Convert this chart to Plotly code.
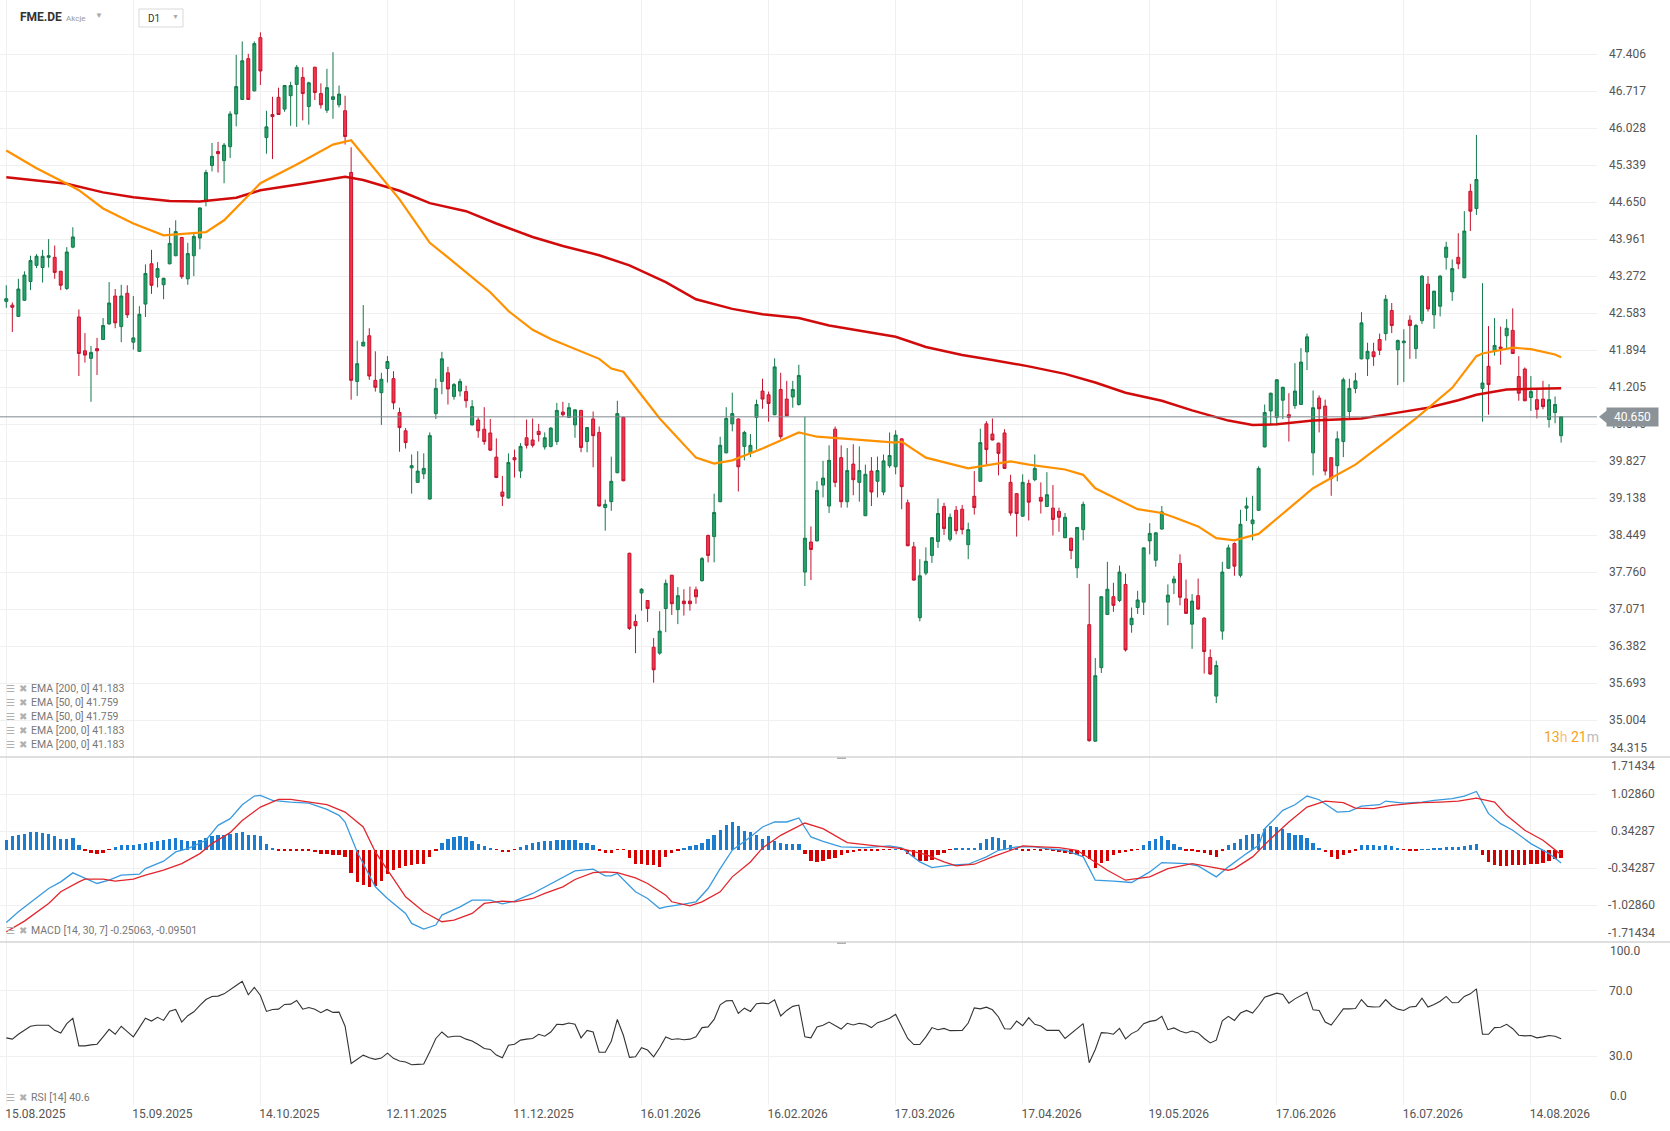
import plotly.graph_objects as go
from plotly.subplots import make_subplots

# FME.DE daily sessions, first one is 15.08.2025
opens = [42.80, 42.73, 42.52, 42.82, 43.17, 43.47, 43.43, 43.62, 43.62, 43.36,
         43.04, 43.81, 42.51, 41.88, 41.74, 41.92, 42.09, 42.38, 42.90, 42.33,
         42.95, 42.04, 41.87, 42.75, 43.50, 43.25, 43.11, 43.50, 43.65, 43.99,
         43.22, 43.65, 43.98, 44.67, 45.33, 45.59, 45.42, 45.68, 46.29, 46.56,
         47.32, 46.72, 47.71, 45.85, 46.28, 46.60, 46.38, 46.63, 46.84, 46.97,
         46.43, 47.16, 46.67, 46.36, 46.56, 46.46, 46.35, 45.20, 41.31, 41.97,
         42.16, 41.33, 41.10, 41.55, 41.36, 40.73, 40.39, 39.70, 39.43, 39.59,
         39.12, 40.71, 41.31, 41.47, 41.03, 41.13, 41.12, 40.50, 40.59, 40.42,
         40.35, 39.90, 39.25, 39.14, 39.89, 39.64, 40.26, 40.22, 40.38, 40.09,
         40.10, 40.19, 40.74, 40.64, 40.50, 40.77, 40.19, 40.61, 40.36, 38.96,
         39.07, 39.61, 40.64, 38.11, 36.84, 37.37, 37.23, 36.36, 36.25, 37.08,
         37.70, 37.06, 37.22, 37.22, 37.43, 37.60, 38.44, 38.42, 39.07, 39.98,
         40.52, 40.61, 40.10, 39.98, 40.64, 41.13, 41.06, 40.69, 41.16, 40.98,
         41.02, 40.88, 37.76, 38.32, 38.34, 39.38, 38.99, 40.42, 39.89, 39.07,
         39.77, 39.43, 38.81, 39.64, 39.45, 39.25, 39.74, 39.72, 40.24, 39.05,
         38.23, 36.91, 37.74, 38.07, 38.33, 38.98, 38.37, 38.91, 38.93, 38.27,
         39.17, 39.45, 40.52, 40.33, 40.16, 40.35, 39.43, 39.22, 38.80, 39.41,
         39.48, 39.15, 38.98, 38.95, 38.89, 38.40, 38.39, 37.84, 38.55, 36.78,
         34.61, 35.98, 36.97, 37.30, 37.23, 37.53, 36.78, 37.10, 37.20, 38.34,
         37.98, 38.56, 37.20, 37.56, 37.92, 37.26, 36.79, 37.32, 36.90, 36.17,
         35.45, 36.66, 37.83, 38.29, 37.70, 38.95, 38.66, 38.91, 40.09, 40.76,
         40.64, 40.96, 40.69, 40.86, 40.88, 41.86, 39.98, 41.00, 40.85, 39.89,
         39.74, 40.19, 40.75, 41.18, 41.73, 41.73, 41.86, 42.09, 42.20, 42.63,
         41.90, 42.03, 42.45, 41.92, 42.44, 43.12, 42.55, 42.71, 43.62, 42.98,
         43.62, 43.24, 44.85, 44.53, 41.18, 41.59, 41.87, 41.95, 42.16, 42.26,
         41.40, 41.54, 41.01, 40.97, 40.98, 40.60, 40.73, 40.30]
highs = [43.10, 42.78, 43.22, 43.36, 43.65, 43.68, 43.76, 43.96, 43.84, 43.37,
         43.81, 44.18, 42.65, 42.21, 41.97, 42.12, 42.49, 43.16, 43.03, 43.11,
         43.10, 42.90, 42.71, 43.49, 43.76, 43.53, 43.24, 44.17, 44.31, 44.00,
         43.89, 44.09, 44.55, 45.25, 45.75, 45.77, 45.75, 46.34, 47.39, 47.64,
         47.41, 47.64, 47.81, 46.35, 46.61, 46.78, 46.83, 46.89, 47.20, 47.16,
         46.89, 47.17, 46.86, 47.13, 47.44, 46.82, 46.63, 45.67, 42.07, 42.73,
         42.30, 41.87, 41.47, 41.78, 41.50, 40.82, 40.44, 39.95, 40.01, 39.97,
         40.36, 41.36, 41.86, 41.58, 41.28, 41.36, 41.23, 40.96, 40.64, 40.83,
         40.61, 40.25, 39.55, 39.97, 40.04, 40.16, 40.60, 40.62, 40.52, 40.36,
         40.46, 40.91, 40.93, 40.91, 40.79, 40.78, 40.46, 40.75, 40.47, 39.11,
         39.91, 40.95, 40.65, 38.12, 36.97, 37.46, 37.24, 36.53, 37.03, 37.62,
         37.71, 37.48, 37.44, 37.49, 37.49, 38.04, 38.46, 39.22, 40.28, 40.83,
         41.10, 40.62, 40.39, 40.33, 40.97, 41.36, 41.12, 41.74, 41.47, 41.32,
         41.32, 41.62, 40.65, 38.61, 39.45, 39.83, 40.12, 40.47, 40.12, 40.07,
         40.14, 40.10, 39.76, 39.90, 39.91, 39.95, 40.36, 40.40, 40.25, 39.11,
         38.32, 38.00, 38.22, 38.41, 39.13, 39.05, 38.85, 38.99, 39.01, 38.68,
         39.64, 40.43, 40.57, 40.62, 40.17, 40.42, 39.57, 39.23, 39.58, 39.48,
         39.95, 39.43, 39.62, 39.38, 38.96, 38.86, 38.40, 38.60, 39.07, 37.54,
         36.16, 37.31, 37.95, 37.56, 37.88, 37.73, 37.10, 37.41, 38.22, 38.67,
         38.50, 38.99, 37.53, 37.69, 38.09, 37.62, 37.35, 37.64, 36.92, 36.32,
         36.11, 37.95, 38.27, 38.31, 38.92, 39.15, 39.18, 39.73, 40.88, 41.10,
         41.35, 41.21, 41.09, 41.65, 41.93, 42.20, 41.14, 41.05, 40.97, 39.90,
         40.38, 41.38, 41.36, 41.47, 42.60, 42.03, 42.03, 42.20, 42.92, 42.77,
         42.09, 42.28, 42.54, 42.38, 43.29, 43.27, 43.00, 43.29, 43.91, 43.58,
         44.07, 44.48, 44.99, 45.90, 43.14, 42.34, 42.49, 42.33, 42.47, 42.67,
         41.78, 41.57, 41.41, 41.15, 41.32, 41.26, 41.03, 40.66]
lows = [42.68, 42.23, 42.51, 42.81, 43.01, 43.42, 43.15, 43.43, 43.22, 43.01,
        43.01, 43.79, 41.41, 41.66, 40.93, 41.43, 42.08, 42.37, 42.30, 42.04,
        42.49, 41.90, 41.86, 42.51, 42.94, 43.06, 42.84, 43.49, 43.64, 43.22,
        43.11, 43.27, 43.77, 44.57, 45.22, 45.20, 45.00, 45.47, 46.06, 46.55,
        46.55, 46.71, 46.83, 45.55, 45.45, 46.27, 46.33, 46.07, 46.05, 46.17,
        46.09, 46.55, 46.39, 46.31, 46.20, 46.41, 45.72, 40.97, 41.04, 41.96,
        41.34, 41.12, 40.50, 41.29, 40.79, 40.00, 40.06, 39.22, 39.42, 39.49,
        39.11, 40.61, 41.07, 40.88, 40.97, 41.03, 40.82, 40.49, 40.26, 40.13,
        40.02, 39.51, 38.99, 39.13, 39.52, 39.51, 40.06, 40.08, 40.19, 40.04,
        40.08, 40.13, 40.65, 40.63, 40.26, 39.99, 39.99, 39.71, 38.98, 38.53,
        38.90, 39.60, 39.45, 36.68, 36.25, 37.04, 36.83, 35.70, 36.22, 36.64,
        36.96, 36.79, 36.95, 37.04, 37.17, 37.58, 37.94, 37.94, 39.06, 39.97,
        40.38, 39.26, 39.84, 39.90, 40.04, 40.80, 40.56, 40.68, 40.24, 40.66,
        40.82, 40.86, 37.50, 37.61, 38.33, 39.15, 38.86, 39.34, 38.96, 38.96,
        39.19, 39.07, 38.80, 38.99, 39.15, 39.19, 39.70, 39.58, 38.93, 38.24,
        37.60, 36.84, 37.70, 37.93, 38.21, 38.45, 38.33, 38.46, 38.46, 38.00,
        38.83, 39.44, 39.76, 40.21, 39.56, 39.68, 38.81, 38.42, 38.79, 38.72,
        39.45, 38.85, 38.97, 38.44, 38.51, 38.39, 38.00, 37.65, 38.35, 34.60,
        34.60, 35.88, 36.96, 37.02, 37.20, 36.28, 36.63, 36.98, 36.96, 38.09,
        37.86, 38.55, 36.77, 37.35, 37.14, 36.98, 36.33, 37.06, 35.87, 35.85,
        35.32, 36.50, 37.82, 37.69, 37.66, 38.71, 38.35, 38.90, 40.08, 40.51,
        40.49, 40.61, 40.19, 40.80, 40.87, 41.52, 39.56, 40.36, 39.56, 39.18,
        39.45, 39.90, 40.62, 41.09, 41.72, 41.41, 41.60, 41.80, 42.07, 42.21,
        41.24, 41.30, 41.73, 41.73, 42.38, 42.61, 42.29, 42.52, 43.39, 42.81,
        43.40, 43.23, 44.11, 44.41, 40.56, 40.69, 41.79, 41.62, 41.92, 41.82,
        40.95, 40.94, 40.76, 40.62, 40.79, 40.45, 40.53, 40.17]
closes = [42.85, 42.69, 43.03, 43.29, 43.56, 43.64, 43.64, 43.65, 43.34, 43.10,
          43.72, 44.00, 41.83, 41.80, 41.85, 41.88, 42.35, 42.77, 42.40, 42.90,
          42.55, 42.12, 42.56, 43.32, 43.10, 43.41, 43.23, 43.88, 44.10, 43.26,
          43.69, 44.01, 44.54, 45.20, 45.50, 45.55, 45.71, 46.29, 46.80, 47.28,
          46.56, 47.60, 47.09, 46.05, 46.24, 46.28, 46.82, 46.82, 47.16, 46.67,
          46.87, 46.69, 46.46, 46.78, 46.61, 46.66, 45.87, 41.33, 41.64, 42.04,
          41.41, 41.20, 41.35, 41.68, 40.91, 40.45, 40.17, 39.74, 39.64, 39.69,
          40.30, 41.18, 41.73, 41.17, 41.25, 41.31, 40.95, 40.84, 40.39, 40.19,
          40.03, 39.52, 39.17, 39.80, 39.85, 40.10, 40.12, 40.12, 40.32, 40.26,
          40.44, 40.77, 40.69, 40.82, 40.78, 40.08, 40.45, 40.30, 38.99, 39.02,
          39.45, 40.71, 39.46, 36.71, 36.76, 37.44, 37.08, 35.94, 36.66, 37.55,
          37.17, 37.32, 37.17, 37.17, 37.30, 38.01, 38.07, 38.87, 40.12, 40.62,
          40.71, 39.72, 40.36, 40.12, 40.88, 40.98, 40.90, 41.58, 40.28, 40.67,
          41.16, 41.42, 38.39, 38.18, 39.28, 39.51, 39.84, 39.43, 39.07, 39.65,
          39.48, 39.65, 39.58, 39.25, 39.65, 39.83, 39.93, 40.31, 39.35, 38.25,
          37.61, 37.69, 37.96, 38.40, 38.85, 38.57, 38.78, 38.53, 38.55, 38.55,
          38.96, 40.17, 40.04, 40.22, 39.97, 39.69, 38.86, 38.85, 39.43, 39.06,
          39.69, 39.08, 39.20, 38.74, 38.78, 38.78, 38.16, 38.59, 39.02, 34.62,
          35.83, 37.30, 37.44, 37.14, 37.76, 36.31, 36.90, 37.24, 38.21, 38.48,
          38.49, 38.88, 37.33, 37.63, 37.29, 36.99, 37.22, 37.07, 36.28, 35.86,
          36.02, 37.76, 38.21, 37.87, 38.65, 38.99, 38.73, 39.69, 40.73, 41.09,
          41.34, 41.20, 40.64, 41.13, 41.67, 42.14, 40.82, 40.80, 39.64, 39.50,
          40.24, 41.34, 41.18, 41.32, 42.40, 41.87, 41.77, 41.89, 42.84, 42.35,
          42.07, 42.06, 42.35, 42.35, 43.27, 42.66, 42.99, 43.27, 43.81, 43.41,
          43.50, 44.11, 44.48, 45.07, 41.28, 41.25, 41.98, 41.92, 42.30, 41.83,
          41.09, 40.95, 41.12, 40.79, 40.84, 40.97, 40.88, 40.65]

# date labels, one every 21 sessions
date_labels = ["15.08.2025", "15.09.2025", "14.10.2025", "12.11.2025", "11.12.2025",
               "16.01.2026", "16.02.2026", "17.03.2026", "17.04.2026", "19.05.2026",
               "17.06.2026", "16.07.2026", "14.08.2026"]
label_step = 21

# EMA lines (session index -> value)
ema200_at = [0, 5, 10, 16, 21, 27, 32, 38, 42, 49, 56, 59, 65, 70, 76, 81, 87, 92, 98, 103,
             109, 114, 120, 125, 131, 136, 141, 147, 152, 158, 163, 169, 175, 180, 185, 191,
             196, 202, 206, 210, 216, 219, 224, 229, 235, 240, 243, 248, 254, 257]
ema200 = [45.11, 45.05, 44.99, 44.83, 44.74, 44.67, 44.66, 44.73, 44.87, 44.99, 45.12, 45.06,
          44.86, 44.63, 44.48, 44.25, 44.00, 43.83, 43.66, 43.47, 43.16, 42.84, 42.66, 42.56,
          42.49, 42.35, 42.26, 42.14, 41.95, 41.80, 41.71, 41.59, 41.45, 41.29, 41.10, 40.95,
          40.77, 40.58, 40.50, 40.51, 40.58, 40.60, 40.62, 40.71, 40.82, 40.96, 41.06, 41.16,
          41.17, 41.183]
ema50_at = [0, 5, 10, 12, 16, 21, 26, 29, 33, 36, 42, 48, 54, 57, 60, 65, 70, 73, 80, 83, 87,
            90, 98, 100, 102, 108, 114, 117, 120, 125, 131, 134, 139, 147, 148, 152, 159, 166,
            169, 175, 178, 180, 187, 191, 193, 197, 200, 203, 207, 212, 216, 219, 223, 228,
            233, 239, 243, 244, 249, 252, 256, 257]
ema50 = [45.61, 45.28, 44.99, 44.87, 44.53, 44.25, 44.03, 44.05, 44.09, 44.31, 45.00, 45.35,
         45.72, 45.80, 45.39, 44.70, 43.89, 43.62, 42.97, 42.62, 42.27, 42.10, 41.73, 41.55,
         41.49, 40.62, 39.89, 39.78, 39.84, 40.06, 40.36, 40.28, 40.24, 40.17, 40.19, 39.89,
         39.69, 39.82, 39.76, 39.67, 39.57, 39.32, 38.93, 38.86, 38.78, 38.61, 38.39, 38.35,
         38.47, 38.95, 39.32, 39.51, 39.76, 40.19, 40.62, 41.19, 41.78, 41.83, 41.94, 41.91,
         41.81, 41.759]

# MACD [14, 30, 7]
macd_at = [0, 2, 7, 9, 11, 13, 15, 17, 19, 22, 23, 26, 28, 30, 33, 35, 37, 39, 41, 42, 44, 47,
           50, 53, 55, 56, 58, 61, 63, 66, 67, 69, 71, 72, 75, 77, 80, 82, 84, 87, 89, 92, 94,
           97, 99, 100, 101, 104, 106, 108, 109, 112, 114, 116, 118, 120, 123, 125, 127, 129,
           131, 133, 135, 138, 142, 146, 148, 151, 153, 156, 159, 162, 164, 167, 170, 172, 175,
           178, 180, 183, 186, 189, 191, 195, 197, 200, 202, 205, 207, 208, 211, 213, 215, 217,
           220, 222, 224, 227, 228, 231, 234, 236, 239, 241, 243, 245, 247, 249, 252, 255, 257]
macd = [-1.351, -1.154, -0.723, -0.600, -0.433, -0.538, -0.630, -0.569, -0.476, -0.458, -0.353,
        -0.217, -0.045, 0.017, 0.171, 0.448, 0.571, 0.830, 0.990, 1.002, 0.910, 0.879, 0.861,
        0.744, 0.633, 0.510, -0.045, -0.692, -0.908, -1.185, -1.370, -1.474, -1.400, -1.216,
        -1.062, -0.939, -0.939, -1.006, -0.957, -0.815, -0.692, -0.507, -0.396, -0.365, -0.489,
        -0.489, -0.445, -0.784, -0.908, -1.092, -1.062, -1.012, -0.969, -0.723, -0.353, -0.014,
        0.232, 0.417, 0.510, 0.510, 0.584, 0.232, 0.152, 0.047, 0.035, 0.066, 0.029, -0.230,
        -0.335, -0.291, -0.273, -0.137, -0.014, 0.047, 0.047, 0.017, -0.014, -0.137, -0.569,
        -0.587, -0.612, -0.415, -0.242, -0.261, -0.304, -0.507, -0.322, -0.076, 0.078, 0.386,
        0.725, 0.830, 0.990, 0.922, 0.694, 0.706, 0.805, 0.830, 0.898, 0.861, 0.879, 0.910,
        0.941, 0.990, 1.076, 0.664, 0.479, 0.356, 0.109, -0.076, -0.25063]
signal_at = [0, 3, 7, 9, 12, 13, 16, 18, 21, 23, 26, 29, 32, 34, 37, 39, 42, 45, 47, 50, 53, 56,
             59, 61, 64, 66, 69, 72, 74, 77, 79, 82, 84, 87, 89, 92, 94, 97, 99, 101, 104, 106,
             109, 110, 113, 115, 118, 120, 123, 125, 128, 132, 135, 139, 143, 146, 148, 152,
             155, 157, 160, 163, 166, 168, 171, 174, 177, 179, 182, 185, 189, 192, 196, 199,
             202, 203, 206, 209, 212, 215, 218, 221, 223, 226, 229, 232, 234, 237, 240, 243,
             246, 248, 251, 254, 257]
signal = [-1.524, -1.327, -1.000, -0.784, -0.600, -0.550, -0.550, -0.587, -0.550, -0.476, -0.384,
          -0.261, -0.076, 0.109, 0.312, 0.539, 0.787, 0.928, 0.928, 0.879, 0.830, 0.694, 0.417,
          -0.045, -0.538, -0.877, -1.154, -1.339, -1.308, -1.185, -1.000, -0.957, -0.969,
          -0.908, -0.815, -0.692, -0.556, -0.427, -0.415, -0.427, -0.526, -0.630, -0.846,
          -0.969, -1.043, -0.969, -0.784, -0.507, -0.230, 0.029, 0.263, 0.491, 0.386, 0.128,
          0.078, 0.035, 0.017, -0.094, -0.230, -0.304, -0.273, -0.137, -0.014, 0.066, 0.047,
          0.035, -0.014, -0.168, -0.384, -0.569, -0.507, -0.353, -0.261, -0.322, -0.384,
          -0.353, -0.137, 0.201, 0.510, 0.787, 0.898, 0.867, 0.768, 0.756, 0.818, 0.849, 0.867,
          0.879, 0.898, 0.953, 0.879, 0.633, 0.356, 0.171, -0.09501]
hist = [0.170, 0.245, 0.275, 0.294, 0.319, 0.319, 0.312, 0.294, 0.251, 0.201,
        0.201, 0.208, 0.091, -0.014, -0.057, -0.088, -0.057, -0.002, 0.054, 0.091,
        0.084, 0.078, 0.097, 0.121, 0.140, 0.152, 0.171, 0.189, 0.208, 0.171,
        0.152, 0.152, 0.177, 0.214, 0.251, 0.275, 0.275, 0.294, 0.306, 0.319,
        0.263, 0.263, 0.251, 0.103, 0.017, -0.033, -0.033, -0.033, -0.026, -0.014,
        -0.026, -0.045, -0.082, -0.088, -0.094, -0.107, -0.137, -0.439, -0.600, -0.649,
        -0.692, -0.680, -0.587, -0.458, -0.372, -0.335, -0.310, -0.291, -0.273, -0.261,
        -0.137, -0.014, 0.128, 0.201, 0.232, 0.245, 0.226, 0.165, 0.103, 0.066,
        0.029, -0.008, -0.045, -0.039, -0.002, 0.047, 0.091, 0.115, 0.140, 0.152,
        0.165, 0.183, 0.183, 0.183, 0.183, 0.128, 0.121, 0.078, -0.026, -0.063,
        -0.070, -0.002, -0.002, -0.156, -0.261, -0.261, -0.279, -0.291, -0.316, -0.137,
        -0.070, -0.020, 0.029, 0.066, 0.091, 0.121, 0.189, 0.263, 0.356, 0.448,
        0.503, 0.430, 0.337, 0.325, 0.275, 0.189, 0.251, 0.152, 0.128, 0.109,
        0.097, 0.097, -0.088, -0.217, -0.230, -0.217, -0.181, -0.150, -0.107, -0.063,
        -0.045, -0.033, -0.026, -0.026, -0.014, -0.002, -0.002, 0.004, -0.002, -0.088,
        -0.137, -0.205, -0.217, -0.193, -0.107, -0.057, -0.002, 0.017, 0.017, 0.017,
        0.029, 0.128, 0.189, 0.226, 0.214, 0.171, 0.091, 0.017, -0.014, -0.033,
        -0.008, -0.014, -0.008, -0.020, -0.045, -0.057, -0.076, -0.094, -0.125, -0.168,
        -0.341, -0.242, -0.205, -0.107, -0.057, -0.045, -0.033, -0.002, 0.078, 0.152,
        0.201, 0.245, 0.171, 0.109, 0.047, -0.014, -0.026, -0.039, -0.057, -0.107,
        -0.137, -0.026, 0.078, 0.128, 0.201, 0.275, 0.282, 0.288, 0.374, 0.430,
        0.411, 0.374, 0.312, 0.263, 0.263, 0.214, 0.128, 0.029, -0.045, -0.137,
        -0.168, -0.094, -0.070, -0.026, 0.078, 0.091, 0.078, 0.066, 0.091, 0.066,
        0.017, -0.002, -0.014, -0.026, 0.004, 0.004, 0.023, 0.029, 0.047, 0.047,
        0.054, 0.066, 0.078, 0.109, -0.094, -0.230, -0.291, -0.310, -0.304, -0.291,
        -0.279, -0.279, -0.273, -0.267, -0.242, -0.205, -0.181, -0.156]

# RSI [14]
rsi = [41.2, 40.4, 43.4, 45.8, 48.3, 48.9, 48.9, 48.9, 45.8, 44.2,
       49.9, 53.2, 36.3, 36.3, 36.9, 37.3, 41.8, 46.4, 43.4, 48.3,
       45.0, 41.8, 47.5, 53.2, 51.5, 53.8, 51.9, 57.6, 58.6, 50.9,
       54.8, 57.2, 61.1, 64.7, 66.6, 66.8, 68.2, 71.0, 73.3, 75.9,
       67.6, 72.2, 67.2, 57.4, 58.6, 58.8, 61.7, 61.9, 64.1, 58.8,
       59.8, 58.8, 56.6, 58.6, 56.8, 57.0, 48.3, 25.5, 28.0, 30.6,
       29.0, 28.0, 28.8, 31.8, 28.6, 27.0, 26.4, 24.7, 24.9, 25.1,
       32.6, 40.8, 44.8, 41.6, 42.2, 42.2, 40.4, 39.3, 37.1, 34.7,
       34.1, 30.6, 29.0, 36.7, 37.3, 39.8, 40.4, 40.8, 43.4, 42.2,
       44.8, 49.5, 49.3, 50.3, 49.5, 41.2, 45.8, 44.8, 32.4, 32.4,
       39.1, 52.5, 42.8, 29.2, 29.6, 35.1, 33.7, 29.6, 35.1, 41.8,
       40.2, 40.6, 40.0, 40.4, 41.8, 47.5, 47.9, 52.5, 61.5, 63.9,
       64.1, 56.2, 59.4, 57.4, 62.1, 62.5, 62.1, 64.5, 54.6, 58.0,
       60.5, 61.3, 41.8, 41.2, 47.9, 48.9, 50.9, 48.5, 46.6, 50.1,
       49.1, 50.1, 49.5, 47.5, 50.5, 51.7, 53.2, 55.6, 47.9, 40.8,
       37.1, 37.1, 41.8, 47.5, 46.2, 47.0, 45.6, 45.8, 45.8, 50.3,
       59.6, 59.0, 60.0, 58.4, 54.0, 46.8, 46.6, 51.5, 48.7, 53.6,
       49.5, 48.5, 45.8, 45.8, 45.8, 40.8, 43.8, 46.8, 49.9, 25.9,
       34.1, 44.4, 44.2, 43.4, 47.0, 40.6, 43.8, 45.6, 49.9, 51.3,
       51.9, 54.4, 46.2, 47.3, 45.4, 44.2, 45.4, 44.2, 40.8, 38.1,
       39.8, 51.7, 54.4, 51.9, 56.4, 58.0, 56.4, 60.9, 66.1, 67.4,
       68.6, 67.8, 62.5, 65.1, 67.2, 69.2, 58.4, 58.0, 50.9, 49.1,
       54.0, 59.0, 59.0, 59.2, 64.7, 60.5, 60.1, 60.3, 64.7, 60.9,
       58.8, 58.0, 60.1, 60.5, 65.5, 60.1, 61.7, 63.7, 66.6, 62.7,
       62.9, 66.6, 68.2, 71.2, 43.4, 43.4, 47.5, 47.7, 49.5, 46.8,
       42.8, 42.4, 42.6, 41.2, 41.8, 42.6, 42.2, 40.6]

price_ticks = [35.004, 35.693, 36.382, 37.071, 37.760, 38.449, 39.138, 39.827, 40.516, 41.205,
               41.894, 42.583, 43.272, 43.961, 44.650, 45.339, 46.028, 46.717, 47.406]
macd_ticks = [-1.71434, -1.02860, -0.34287, 0.34287, 1.02860, 1.71434]
rsi_ticks = [0, 30, 70, 100]
last_price = 40.650

n = len(closes)
assert len(opens) == len(highs) == len(lows) == n == len(hist) == len(rsi)
sessions = list(range(n))

W, H = 1670, 1131
MR, MB = 73, 26
PW, PH = W - MR, H - MB


def fx(px):
    return px / PW


def fy(py):
    return (PH - py) / PH


h_main, h_macd = 757, 185
h_rsi = PH - h_main - h_macd
fig = make_subplots(rows=3, cols=1, shared_xaxes=True, vertical_spacing=0,
                    row_heights=[h_main / PH, h_macd / PH, h_rsi / PH])

fig.add_trace(go.Scatter(x=ema200_at, y=ema200, mode="lines",
                         line=dict(color="#d10b0b", width=2.5), hoverinfo="skip"), row=1, col=1)
fig.add_trace(go.Scatter(x=ema50_at, y=ema50, mode="lines",
                         line=dict(color="#ff9100", width=2.2), hoverinfo="skip"), row=1, col=1)
fig.add_trace(go.Candlestick(
    x=sessions, open=opens, high=highs, low=lows, close=closes,
    increasing=dict(line=dict(color="#13794b", width=1), fillcolor="#25a36b"),
    decreasing=dict(line=dict(color="#c4132f", width=1), fillcolor="#f5344a"),
    whiskerwidth=0, hoverinfo="skip"), row=1, col=1)

fig.add_trace(go.Bar(x=sessions, y=hist, width=0.55,
                     marker=dict(color=["#1a7dcf" if v >= 0 else "#d40000" for v in hist],
                                 line=dict(width=0)), hoverinfo="skip"), row=2, col=1)
fig.add_trace(go.Scatter(x=macd_at, y=macd, mode="lines",
                         line=dict(color="#3a9ade", width=1.3), hoverinfo="skip"), row=2, col=1)
fig.add_trace(go.Scatter(x=signal_at, y=signal, mode="lines",
                         line=dict(color="#e1262c", width=1.3), hoverinfo="skip"), row=2, col=1)

fig.add_trace(go.Scatter(x=sessions, y=rsi, mode="lines",
                         line=dict(color="#333333", width=1.1), hoverinfo="skip"), row=3, col=1)

tick_pos = [k * label_step for k in range(len(date_labels))]
axis_font = dict(family="Roboto, sans-serif", size=12, color="#555555")
fig.update_xaxes(range=[-1.04, 262.93], tickvals=tick_pos, ticktext=date_labels,
                 showgrid=True, gridcolor="#f0f0f0", gridwidth=1, zeroline=False,
                 showline=False, ticks="", showticklabels=False, fixedrange=True)
fig.update_xaxes(showticklabels=True, tickfont=axis_font, ticklabelshift=29, row=3, col=1)
fig.update_xaxes(rangeslider_visible=False, row=1, col=1)

yax = dict(side="right", showgrid=True, gridcolor="#f0f0f0", zeroline=False, showline=False,
           ticks="", tickfont=axis_font, ticklabelstandoff=11, fixedrange=True)
fig.update_yaxes(range=[34.316, 48.412], tickvals=price_ticks,
                 ticktext=["%.3f" % v for v in price_ticks], row=1, col=1, **yax)
# MACD labels are right-aligned (minus sign hangs left), drawn as annotations below
fig.update_yaxes(range=[-1.71434, 1.71434], tickvals=macd_ticks,
                 ticktext=["" for v in macd_ticks], row=2, col=1, **yax)
fig.update_yaxes(range=[0, 100], tickvals=rsi_ticks,
                 ticktext=["", "30.0", "70.0", ""], row=3, col=1, **yax)

shapes = []
# panel separators with their small drag handles
for yb in (fy(h_main), fy(h_main + h_macd)):
    shapes.append(dict(type="line", xref="paper", yref="paper", x0=0, x1=W / PW, y0=yb, y1=yb,
                       line=dict(color="#d4d4d4", width=1.5)))
    shapes.append(dict(type="rect", xref="paper", yref="paper", x0=fx(837), x1=fx(846),
                       y0=yb - 2 / PH, y1=yb - 0.5 / PH, fillcolor="#b0b0b0", line=dict(width=0)))
# last price line and its tag arrow
shapes.append(dict(type="line", xref="paper", yref="y", x0=0, x1=1, y0=last_price, y1=last_price,
                   line=dict(color="#808890", width=1)))
shapes.append(dict(type="path", xref="paper", yref="y",
                   path="M %f,%f L %f,%f L %f,%f Z" % (fx(1599), last_price, fx(1609), last_price + 0.15,
                                                      fx(1609), last_price - 0.15),
                   fillcolor="#8b9398", line=dict(width=0)))
# timeframe box in the header
shapes.append(dict(type="rect", xref="paper", yref="paper", x0=fx(139), x1=fx(183),
                   y0=fy(27), y1=fy(9), fillcolor="white", line=dict(color="#d9d9d9", width=1)))

ann = []
small = "Roboto, sans-serif"


def txt(x, y, text, size=11, color="#777777", anchor="left", yanchor="middle", yref="paper", **kw):
    ann.append(dict(x=x, y=y, xref="paper", yref=yref, text=text, showarrow=False,
                    xanchor=anchor, yanchor=yanchor,
                    font=dict(family=small, size=size, color=color), **kw))


txt(fx(18), fy(17), "<b>FME.DE</b>", size=12, color="#333333")
txt(fx(64), fy(18), "Akcje", size=8, color="#999999")
txt(fx(93), fy(16), "▼", size=8, color="#aaaaaa")
txt(fx(146), fy(18), "D1", size=10, color="#333333")
txt(fx(170), fy(17), "▼", size=7, color="#aaaaaa")

ema_legend = ["EMA [200, 0] 41.183", "EMA [50, 0] 41.759", "EMA [50, 0] 41.759",
              "EMA [200, 0] 41.183", "EMA [200, 0] 41.183"]
for k, label in enumerate(ema_legend):
    yy = fy(688.5 + 14 * k)
    txt(fx(4), yy, "☰", size=10, color="#b0b0b0")
    txt(fx(17), yy, "✖", size=10, color="#b0b0b0")
    txt(fx(29), yy, label, size=10.5, color="#777777")

for yy, label in ((fy(930), "MACD [14, 30, 7] -0.25063, -0.09501"), (fy(1097), "RSI [14] 40.6")):
    txt(fx(4), yy, "☰", size=10, color="#b0b0b0")
    txt(fx(17), yy, "✖", size=10, color="#b0b0b0")
    txt(fx(29), yy, label, size=10.5, color="#777777")

# axis labels that sit on the panel edges
label_x = fx(1608)
txt(label_x, fy(h_main), "34.315", size=12, color="#555555", yanchor="bottom")
txt(label_x, fy(h_main + h_macd), "100.0", size=12, color="#555555", yanchor="top")
txt(label_x, 0, "0.0", size=12, color="#555555", yanchor="bottom")

# MACD scale labels, right-aligned
macd_x = fx(1657)
for v in macd_ticks:
    if v == macd_ticks[-1]:
        txt(macd_x, fy(h_main), "%.5f" % v, size=12, color="#555555", anchor="right", yanchor="top")
    elif v == macd_ticks[0]:
        txt(macd_x, fy(h_main + h_macd), "%.5f" % v, size=12, color="#555555", anchor="right",
            yanchor="bottom")
    else:
        txt(macd_x, v, "%.5f" % v, size=12, color="#555555", anchor="right", yref="y2")

# last price tag
ann.append(dict(x=fx(1633), y=last_price, xref="paper", yref="y", text="40.650",
                showarrow=False, xanchor="center", yanchor="middle", width=49, height=16,
                bgcolor="#8b9398", font=dict(family=small, size=12, color="white")))

txt(fx(1601), fy(737),
    '<span style="color:#f5a21e">13</span><span style="color:#f8c27a">h</span> '
    '<span style="color:#f5a21e">21</span><span style="color:#bbbbbb">m</span>',
    size=14, anchor="right")

fig.update_layout(
    width=W, height=H, margin=dict(l=0, r=MR, t=0, b=MB),
    paper_bgcolor="white", plot_bgcolor="white", showlegend=False,
    bargap=0, shapes=shapes, annotations=ann, hovermode=False,
    font=dict(family=small, color="#555555"),
)

# the page's default body margin would push the chart 8px off its place
fig.write_html("out.html", config={"displayModeBar": False},
               post_script="document.body.style.margin='0';document.body.style.overflow='hidden';")
